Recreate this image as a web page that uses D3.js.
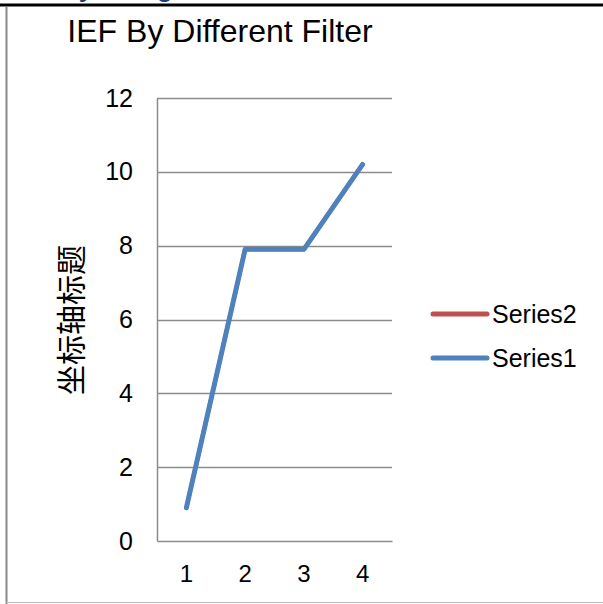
<!DOCTYPE html>
<html>
<head>
<meta charset="utf-8">
<script src="https://cdn.jsdelivr.net/npm/d3@7"></script>
<style>
  html, body { margin: 0; padding: 0; background: #fff; }
  svg { display: block; }
</style>
</head>
<body>
<script>
// Chart data
const categories = [1, 2, 3, 4];
const series1 = [0.9, 7.9, 7.9, 10.2];
const series2 = [0.9, 7.9, 7.9, 10.2];
const yTicks = [0, 2, 4, 6, 8, 10, 12];
const legendNames = ["Series2", "Series1"];
const title = "IEF By Different Filter";
const yTitle = "坐标轴标题";

const W = 603, H = 604;
const font = "Arial, 'Liberation Sans', sans-serif";
const svg = d3.select("body").append("svg").attr("width", W).attr("height", H);

// Heading fragment above the frame
svg.append("text").attr("x", 60).attr("y", -3)
  .attr("font-family", font).attr("font-weight", "bold").attr("font-size", 26)
  .attr("fill", "#1f3b70").text("By Using");

// Frame lines
svg.append("line").attr("x1", 0).attr("x2", W).attr("y1", 5).attr("y2", 5)
  .attr("stroke", "#000").attr("stroke-width", 3);
svg.append("line").attr("x1", 6.5).attr("x2", 6.5).attr("y1", 7).attr("y2", H)
  .attr("stroke", "#888").attr("stroke-width", 2);
svg.append("line").attr("x1", 6).attr("x2", W).attr("y1", 602.5).attr("y2", 602.5)
  .attr("stroke", "#bbb").attr("stroke-width", 1);

const plot = { left: 157, right: 392, top: 98, bottom: 541 };

const x = d3.scaleBand().domain(categories).range([plot.left, plot.right]);
const y = d3.scaleLinear().domain([0, 12]).range([plot.bottom, plot.top]);

// Title
svg.append("text").attr("x", 220).attr("y", 42).attr("text-anchor", "middle")
  .attr("font-family", font).attr("font-size", 32).attr("fill", "#000").text(title);

// Gridlines
svg.append("g").selectAll("line").data(yTicks.filter(d => d > 0)).join("line")
  .attr("x1", plot.left).attr("x2", plot.right)
  .attr("y1", d => Math.round(y(d)) + 0.5).attr("y2", d => Math.round(y(d)) + 0.5)
  .attr("stroke", "#8c8c8c").attr("stroke-width", 1.5);

// Y axis
const yAxis = svg.append("g").attr("transform", `translate(${plot.left},0)`)
  .call(d3.axisLeft(y).tickValues(yTicks).tickSize(0).tickPadding(24));
yAxis.select(".domain").attr("stroke", "#8c8c8c").attr("stroke-width", 1.5);
yAxis.selectAll("text").attr("font-family", font).attr("font-size", 25).attr("fill", "#000");

// X axis
const xAxis = svg.append("g").attr("transform", `translate(0,${plot.bottom})`)
  .call(d3.axisBottom(x).tickSize(0).tickPadding(24));
xAxis.select(".domain").attr("stroke", "#8c8c8c").attr("stroke-width", 1.5);
xAxis.selectAll("text").attr("font-family", font).attr("font-size", 24).attr("fill", "#000");

// Y axis title
svg.append("text")
  .attr("transform", `translate(82,320) rotate(-90)`)
  .attr("text-anchor", "middle")
  .attr("font-family", "'Noto Sans CJK SC', sans-serif").attr("font-size", 30)
  .attr("fill", "#000").text(yTitle);

// Lines (Series1 drawn on top of Series2)
const line = d3.line()
  .x((d, i) => x(categories[i]) + x.bandwidth() / 2)
  .y(d => y(d));

const colors = { Series2: "#c0504d", Series1: "#4f81bd" };
svg.append("path").datum(series2).attr("d", line).attr("fill", "none")
  .attr("stroke", colors.Series2).attr("stroke-width", 4)
  .attr("stroke-linecap", "round").attr("stroke-linejoin", "round");
svg.append("path").datum(series1).attr("d", line).attr("fill", "none")
  .attr("stroke", colors.Series1).attr("stroke-width", 5)
  .attr("stroke-linecap", "round").attr("stroke-linejoin", "round");

// Legend
const legend = svg.append("g").selectAll("g").data(legendNames).join("g")
  .attr("transform", (d, i) => `translate(433,${314 + i * 44})`);
legend.append("line").attr("x1", 0).attr("x2", 54).attr("y1", 0).attr("y2", 0)
  .attr("stroke", d => colors[d]).attr("stroke-width", 5).attr("stroke-linecap", "round");
legend.append("text").attr("x", 59).attr("y", 9)
  .attr("font-family", font).attr("font-size", 25).attr("fill", "#000").text(d => d);
</script>
</body>
</html>
